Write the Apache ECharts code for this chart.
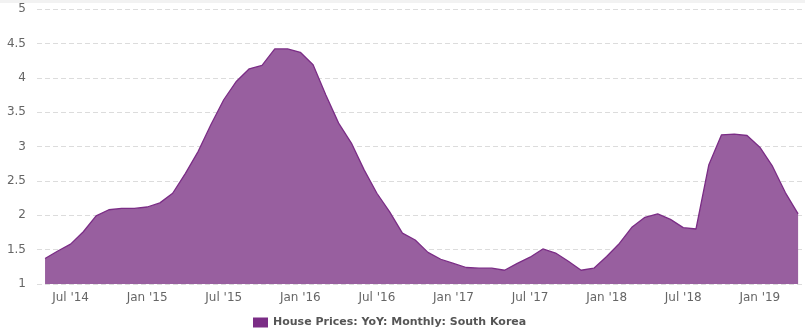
<!DOCTYPE html>
<html>
<head>
<meta charset="utf-8">
<script src="https://cdn.jsdelivr.net/npm/echarts@6/dist/echarts.min.js"></script>
<style>html,body{margin:0;padding:0;background:#fff}#c{width:805px;height:335px}</style>
</head>
<body>
<div id="c"></div>
<script>
// Monthly data, May 2014 .. Apr 2019
var startYear = 2014, startMonth = 4; // 0-based month index (May)
var monthNames = ['Jan','Feb','Mar','Apr','May','Jun','Jul','Aug','Sep','Oct','Nov','Dec'];
var values = [
  1.37, 1.48, 1.58, 1.76, 1.99, 2.08, 2.10, 2.10,
  2.12, 2.18, 2.32, 2.61, 2.93, 3.32, 3.68, 3.95, 4.13, 4.18, 4.42, 4.42,
  4.37, 4.19, 3.75, 3.34, 3.05, 2.66, 2.32, 2.05, 1.74, 1.64, 1.46, 1.36,
  1.30, 1.24, 1.23, 1.23, 1.20, 1.30, 1.39, 1.51, 1.45, 1.33, 1.20, 1.23,
  1.40, 1.59, 1.83, 1.97, 2.02, 1.94, 1.82, 1.80, 2.73, 3.17, 3.18, 3.16,
  2.99, 2.71, 2.33, 2.02
];
var tickMonths = ['Jan', 'Jul'];
var seriesName = 'House Prices: YoY: Monthly: South Korea';

var categories = values.map(function (v, i) {
  var m = startMonth + i;
  var y = startYear + Math.floor(m / 12);
  return monthNames[m % 12] + " '" + String(y).slice(2);
});
var tickIdx = [];
categories.forEach(function (c, i) {
  if (tickMonths.indexOf(c.slice(0, 3)) >= 0) tickIdx.push(i);
});
var pts = values.map(function (v, i) { return [i, v]; });

var chart = echarts.init(document.getElementById('c'), null, {renderer: 'canvas'});
var font = 'DejaVu Sans';
chart.setOption({
  animation: false,
  graphic: [{type: 'rect', shape: {x: 0, y: 0, width: 805, height: 3}, style: {fill: '#f2f2f2'}}],
  grid: {left: 37, right: 0, top: 9, bottom: 51},
  legend: {
    bottom: 2, left: 248,
    itemWidth: 15, itemHeight: 10, itemGap: 10,
    icon: 'rect',
    textStyle: {fontFamily: font, fontSize: 11, fontWeight: 'bold', color: '#555'},
    data: [seriesName]
  },
  xAxis: {
    type: 'value',
    min: -0.63, max: 59.54,
    splitLine: {show: false},
    axisLine: {show: false},
    axisTick: {show: false},
    axisLabel: {
      customValues: tickIdx,
      formatter: function (v) { return categories[Math.round(v)]; },
      fontFamily: font, fontSize: 12, color: '#666', margin: 8
    }
  },
  yAxis: {
    type: 'value', min: 1, max: 5, interval: 0.5,
    axisLine: {show: false}, axisTick: {show: false},
    axisLabel: {fontFamily: font, fontSize: 12, color: '#666', margin: 11},
    splitLine: {lineStyle: {color: '#dcdcdc', type: [5, 3], width: 1}}
  },
  series: [{
    name: seriesName,
    type: 'line',
    data: pts,
    symbol: 'none',
    lineStyle: {color: '#7b2d86', width: 1.3},
    itemStyle: {color: '#7b2d86'},
    areaStyle: {color: '#985f9f', opacity: 1},
    z: 1
  }]
});
</script>
</body>
</html>
